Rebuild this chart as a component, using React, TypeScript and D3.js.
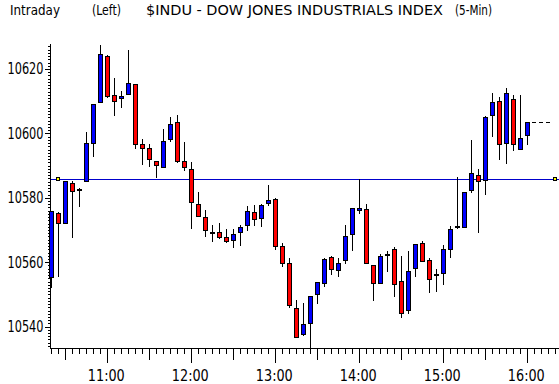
import React, { useEffect, useRef } from "react";
import * as d3 from "d3";

// 5-minute bars, 10:20 .. 16:00
const times = [
  "10:20", "10:25", "10:30", "10:35", "10:40", "10:45", "10:50", "10:55",
  "11:00", "11:05", "11:10", "11:15", "11:20", "11:25", "11:30", "11:35", "11:40", "11:45", "11:50", "11:55",
  "12:00", "12:05", "12:10", "12:15", "12:20", "12:25", "12:30", "12:35", "12:40", "12:45", "12:50", "12:55",
  "13:00", "13:05", "13:10", "13:15", "13:20", "13:25", "13:30", "13:35", "13:40", "13:45", "13:50", "13:55",
  "14:00", "14:05", "14:10", "14:15", "14:20", "14:25", "14:30", "14:35", "14:40", "14:45", "14:50", "14:55",
  "15:00", "15:05", "15:10", "15:15", "15:20", "15:25", "15:30", "15:35", "15:40", "15:45", "15:50", "15:55",
  "16:00",
];

const opens = [
  10555.3, 10575.2, 10572.1, 10584.5, 10582.8, 10585.2, 10596.9, 10609.8,
  10624.0, 10611.8, 10610.9, 10612.1, 10615.3, 10596.6, 10595.4, 10591.3, 10589.7, 10598.2, 10603.4, 10591.3,
  10588.9, 10578.1, 10573.9, 10569.5, 10569.4, 10567.7, 10566.8, 10569.3, 10571.5, 10575.5, 10573.6, 10578.3,
  10579.6, 10564.9, 10559.7, 10545.7, 10537.6, 10541.0, 10550.0, 10553.4, 10561.5, 10557.5, 10560.6, 10568.7,
  10576.1, 10576.4, 10559.0, 10553.4, 10562.7, 10564.1, 10554.1, 10545.1, 10558.1, 10565.9, 10560.6, 10556.2,
  10556.6, 10564.0, 10571.1, 10571.0, 10582.3, 10587.0, 10585.5, 10605.6, 10610.0, 10596.9, 10610.6, 10595.2,
  10599.4,
];

const highs = [
  10576.0, 10575.5, 10585.3, 10585.2, 10582.9, 10600.5, 10609.2, 10627.5,
  10624.3, 10617.1, 10613.2, 10625.9, 10615.4, 10598.3, 10596.6, 10591.4, 10601.4, 10605.0, 10605.7, 10597.3,
  10591.0, 10581.8, 10576.2, 10571.6, 10572.3, 10570.3, 10570.3, 10571.6, 10577.5, 10577.8, 10578.1, 10584.0,
  10580.0, 10566.0, 10561.3, 10548.3, 10547.3, 10549.5, 10553.9, 10561.4, 10561.9, 10561.3, 10571.6, 10576.8,
  10585.7, 10578.1, 10559.1, 10562.5, 10563.5, 10564.8, 10561.9, 10563.5, 10565.7, 10566.5, 10561.2, 10557.8,
  10565.3, 10571.1, 10586.4, 10581.8, 10598.0, 10588.9, 10605.4, 10612.5, 10611.2, 10614.0, 10611.8, 10611.8,
  10603.5,
];

const lows = [
  10551.9, 10555.5, 10571.8, 10567.4, 10577.0, 10585.1, 10592.6, 10609.6,
  10611.1, 10605.5, 10608.0, 10611.8, 10595.1, 10590.2, 10589.7, 10586.2, 10589.2, 10597.4, 10590.7, 10588.4,
  10570.3, 10574.1, 10567.7, 10566.2, 10567.2, 10565.9, 10564.5, 10565.1, 10569.6, 10571.3, 10571.0, 10577.5,
  10563.9, 10558.4, 10545.9, 10536.4, 10537.2, 10533.0, 10546.9, 10552.2, 10556.1, 10555.5, 10559.5, 10563.6,
  10575.1, 10559.4, 10548.0, 10553.1, 10557.0, 10549.3, 10542.6, 10543.8, 10555.3, 10560.2, 10550.3, 10550.6,
  10552.8, 10561.2, 10570.2, 10570.8, 10581.6, 10569.2, 10580.8, 10599.0, 10591.6, 10590.4, 10594.4, 10594.9,
  10596.3,
];

const closes = [
  10576.0, 10572.1, 10585.2, 10582.0, 10582.6, 10596.9, 10609.1, 10624.7,
  10611.7, 10610.2, 10611.6, 10615.7, 10596.6, 10595.4, 10592.0, 10590.1, 10597.6, 10602.8, 10591.3, 10589.5,
  10578.6, 10574.4, 10569.9, 10569.3, 10567.7, 10566.5, 10568.8, 10570.8, 10575.8, 10573.3, 10577.8, 10579.3,
  10565.1, 10559.7, 10546.6, 10536.9, 10540.8, 10549.5, 10553.8, 10561.0, 10557.8, 10559.7, 10568.1, 10576.7,
  10576.7, 10559.8, 10553.4, 10561.9, 10562.6, 10553.1, 10544.1, 10557.2, 10565.6, 10560.5, 10554.7, 10556.1,
  10564.0, 10570.2, 10571.0, 10581.7, 10587.6, 10585.2, 10605.0, 10609.7, 10596.6, 10612.5, 10596.6, 10598.5,
  10603.4,
];

const prevClose = 10585.8;
const priceLabels = [10540, 10560, 10580, 10600, 10620];
const hourLabels = ["11:00", "12:00", "13:00", "14:00", "15:00", "16:00"];

const FONT = "'Liberation Sans Narrow', 'DejaVu Sans Condensed', 'Arial Narrow', sans-serif";

const toMin = (s: string) => {
  const [h, m] = s.split(":").map(Number);
  return h * 60 + m;
};

export default function App() {
  const ref = useRef<SVGSVGElement>(null);

  useEffect(() => {
    const svg = d3.select(ref.current);
    svg.selectAll("*").remove();

    const W = 559;
    const H = 384;
    const axisX = 50;
    const axisY = 348;
    const top = 44;

    const x = d3.scaleLinear().domain([660, 720]).range([107.3, 191.3]);
    const y = d3.scaleLinear().domain([10540, 10620]).range([326.6, 69]);

    svg.append("rect").attr("width", W).attr("height", H).attr("fill", "#fff");

    // header
    const header = [
      { t: "Intraday", x0: 10, w: 50 },
      { t: "(Left)", x0: 92, w: 29 },
      { t: "$INDU - DOW JONES INDUSTRIALS INDEX", x0: 146, w: 297 },
      { t: "(5-Min)", x0: 455, w: 37 },
    ];
    svg
      .selectAll("text.hdr")
      .data(header)
      .enter()
      .append("text")
      .attr("class", "hdr")
      .attr("x", (d) => d.x0)
      .attr("y", 15)
      .attr("textLength", (d) => d.w)
      .attr("lengthAdjust", "spacingAndGlyphs")
      .attr("font-family", FONT)
      .attr("font-size", 14)
      .attr("fill", "#000")
      .text((d) => d.t);

    // y axis: minor ticks every point, labels every 20
    const yMinor = d3.range(10534, 10628);
    const yAxisMinor = svg
      .append("g")
      .attr("transform", `translate(${axisX + 0.5},0)`)
      .call(d3.axisLeft(y).tickValues(yMinor).tickSize(3).tickFormat(() => "").tickSizeOuter(0));
    yAxisMinor.select(".domain").remove();

    const yAxis = svg
      .append("g")
      .attr("transform", `translate(${axisX + 0.5},0)`)
      .call(d3.axisLeft(y).tickValues(priceLabels).tickSize(6).tickPadding(1).tickFormat(d3.format("d")));
    yAxis.select(".domain").remove();
    yAxis
      .selectAll("text")
      .attr("font-family", FONT)
      .attr("font-size", 15)
      .attr("textLength", 36)
      .attr("lengthAdjust", "spacingAndGlyphs")
      .attr("fill", "#000");

    svg.selectAll(".tick line").attr("shape-rendering", "crispEdges");

    // x axis: ticks every 5 min, longer each half hour and hour
    const xTicks = d3.range(toMin("10:20"), toMin("16:30"), 5);
    svg
      .append("g")
      .selectAll("line")
      .data(xTicks)
      .enter()
      .append("line")
      .attr("x1", (d) => Math.round(x(d)) + 0.5)
      .attr("x2", (d) => Math.round(x(d)) + 0.5)
      .attr("y1", axisY)
      .attr("y2", (d) => axisY + (d % 60 === 0 ? 15 : d % 30 === 0 ? 12 : 6))
      .attr("stroke", "#000")
      .attr("shape-rendering", "crispEdges");

    svg
      .append("g")
      .selectAll("text")
      .data(hourLabels)
      .enter()
      .append("text")
      .attr("x", (d) => x(toMin(d)) - 19.5)
      .attr("y", 381)
      .attr("textLength", 37)
      .attr("lengthAdjust", "spacingAndGlyphs")
      .attr("font-family", FONT)
      .attr("font-size", 15)
      .attr("fill", "#000")
      .text((d) => d);

    // axis lines
    svg
      .append("line")
      .attr("x1", axisX + 0.5)
      .attr("x2", axisX + 0.5)
      .attr("y1", top)
      .attr("y2", axisY + 1)
      .attr("stroke", "#000")
      .attr("shape-rendering", "crispEdges");
    svg
      .append("line")
      .attr("x1", axisX)
      .attr("x2", W)
      .attr("y1", axisY + 0.5)
      .attr("y2", axisY + 0.5)
      .attr("stroke", "#000")
      .attr("shape-rendering", "crispEdges");

    // previous close line with markers
    const py = Math.round(y(prevClose)) + 0.5;
    svg
      .append("line")
      .attr("x1", axisX + 1)
      .attr("x2", W)
      .attr("y1", py)
      .attr("y2", py)
      .attr("stroke", "#0000cc")
      .attr("shape-rendering", "crispEdges");
    [56, 553].forEach((mx) => {
      svg
        .append("rect")
        .attr("x", mx + 0.5)
        .attr("y", py - 2)
        .attr("width", 3)
        .attr("height", 3)
        .attr("fill", "#ffff00")
        .attr("stroke", "#000")
        .attr("shape-rendering", "crispEdges");
    });

    // candles
    const bars = times.map((t, i) => ({
      t: toMin(t),
      o: opens[i],
      h: highs[i],
      l: lows[i],
      c: closes[i],
    }));

    const g = svg.append("g").attr("shape-rendering", "crispEdges");
    g.selectAll("line.wick")
      .data(bars)
      .enter()
      .append("line")
      .attr("class", "wick")
      .attr("x1", (d) => Math.round(x(d.t)) + 0.5)
      .attr("x2", (d) => Math.round(x(d.t)) + 0.5)
      .attr("y1", (d) => Math.round(y(d.h)))
      .attr("y2", (d) => Math.min(axisY, Math.round(y(d.l))))
      .attr("stroke", "#000");

    g.selectAll("rect.body")
      .data(bars)
      .enter()
      .append("rect")
      .attr("class", "body")
      .attr("x", (d) => Math.round(x(d.t)) - 2 + 0.5)
      .attr("y", (d) => Math.round(y(Math.max(d.o, d.c))) + 0.5)
      .attr("width", 4)
      .attr("height", (d) =>
        Math.max(1, Math.round(y(Math.min(d.o, d.c))) - Math.round(y(Math.max(d.o, d.c))))
      )
      .attr("fill", (d) => (d.c >= d.o ? "#0000ff" : "#ff0000"))
      .attr("stroke", "#000");

    // last price dashed extension
    const last = bars[bars.length - 1];
    const ly = Math.round(y(last.c)) + 0.5;
    svg
      .append("line")
      .attr("x1", Math.round(x(last.t)) + 5)
      .attr("x2", 551)
      .attr("y1", ly)
      .attr("y2", ly)
      .attr("stroke", "#000")
      .attr("stroke-dasharray", "4,3")
      .attr("shape-rendering", "crispEdges");
  }, []);

  return (
    <svg
      ref={ref}
      width={559}
      height={384}
      style={{ position: "absolute", left: 0, top: 0, display: "block" }}
    />
  );
}
